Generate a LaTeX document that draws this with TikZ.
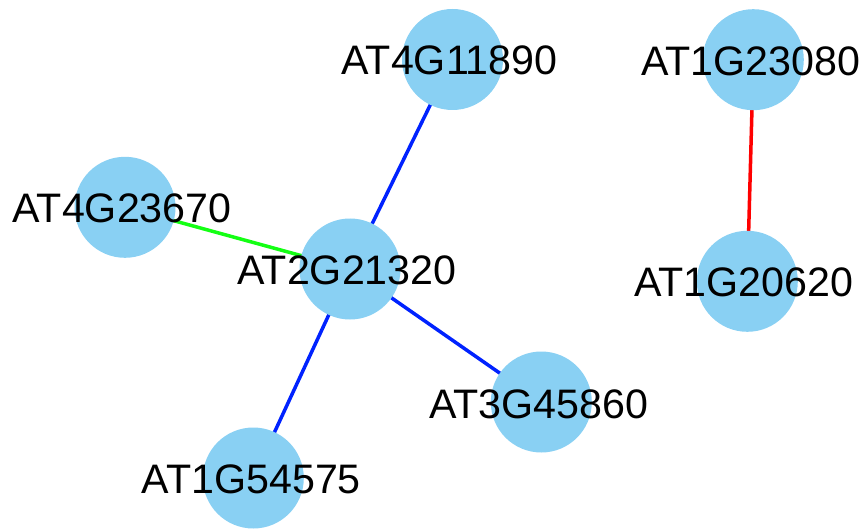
\documentclass[tikz,border=0pt]{standalone}
\usepackage{fontspec}
\setmainfont{Liberation Sans}
\definecolor{nodefill}{RGB}{137,208,243}
\definecolor{edgeblue}{RGB}{0,34,255}
\definecolor{edgegreen}{RGB}{20,255,20}
\definecolor{edgered}{RGB}{255,0,0}
\begin{document}
\begin{tikzpicture}[x=1pt,y=-1pt,
  gene/.style={circle,fill=nodefill,draw=none,minimum size=101pt,inner sep=0pt},
  genelabel/.style={font=\fontsize{41.2}{41.2}\selectfont,text=black,inner sep=0pt},
  link/.style={line width=3.5pt}]
\useasboundingbox (0,0) rectangle (866,529);
% gene positions
\coordinate (p11890) at (452.5,59.5);
\coordinate (p23080) at (753.3,59.7);
\coordinate (p23670) at (125,207.3);
\coordinate (p21320) at (350,269);
\coordinate (p20620) at (747.3,281.3);
\coordinate (p45860) at (541.3,402);
\coordinate (p54575) at (253.3,478);
% interactions, drawn beneath the circles
\draw[link,edgeblue] (p21320) -- (p11890);
\draw[link,edgeblue] (p21320) -- (p45860);
\draw[link,edgeblue] (p21320) -- (p54575);
\draw[link,edgegreen] (p21320) -- (p23670);
\draw[link,edgered] (p23080) -- (p20620);
% circles
\node[gene] (g11890) at (p11890) {};
\node[gene] (g23080) at (p23080) {};
\node[gene] (g23670) at (p23670) {};
\node[gene] (g21320) at (p21320) {};
\node[gene] (g20620) at (p20620) {};
\node[gene] (g45860) at (p45860) {};
\node[gene] (g54575) at (p54575) {};
% names
\node[genelabel] (t11890) at ([shift={(-3,1)}]g11890.center) {AT4G11890};
\node[genelabel] (t23080) at ([shift={(-2.5,1.5)}]g23080.center) {AT1G23080};
\node[genelabel] (t23670) at ([shift={(-3,1.5)}]g23670.center) {AT4G23670};
\node[genelabel] (t21320) at ([shift={(-3,1.5)}]g21320.center) {AT2G21320};
\node[genelabel] (t20620) at ([shift={(-3.5,1.5)}]g20620.center) {AT1G20620};
\node[genelabel] (t45860) at ([shift={(-2.5,2)}]g45860.center) {AT3G45860};
\node[genelabel] (t54575) at ([shift={(-2,1.5)}]g54575.center) {AT1G54575};
\end{tikzpicture}
\end{document}
